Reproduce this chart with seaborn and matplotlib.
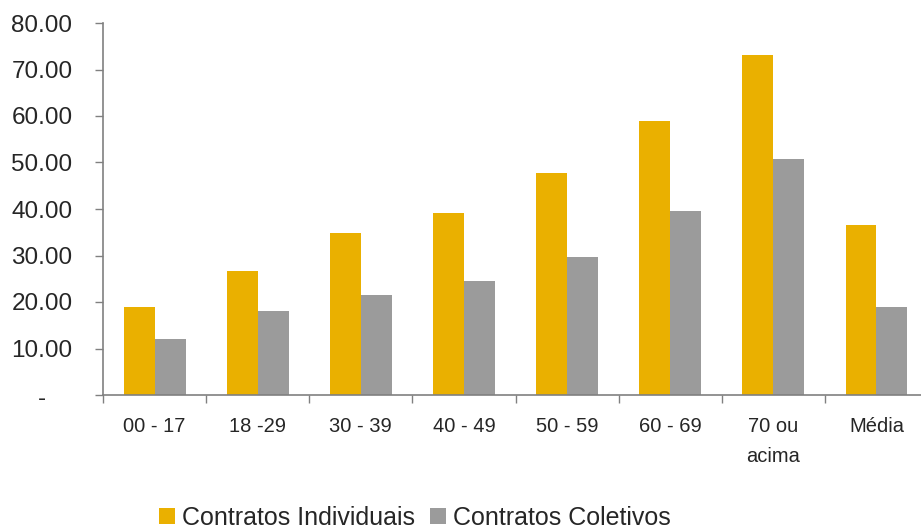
import matplotlib
matplotlib.use("Agg")
import matplotlib.pyplot as plt
import matplotlib.ticker as mticker
import matplotlib.transforms as mtransforms
from matplotlib.patches import Patch
import seaborn as sns
import pandas as pd
import numpy as np

# Faixas etárias e valores médios por tipo de contrato
faixas = ["00 - 17", "18 -29", "30 - 39", "40 - 49", "50 - 59", "60 - 69", "70 ou\nacima", "Média"]
individuais = [18.9, 26.7, 34.8, 39.1, 47.7, 58.9, 73.1, 36.6]
coletivos = [12.0, 18.1, 21.5, 24.5, 29.7, 39.6, 50.8, 18.9]
series = ["Contratos Individuais", "Contratos Coletivos"]
cores = ["#EAB000", "#9B9B9B"]
y_ticks = [0, 10, 20, 30, 40, 50, 60, 70, 80]

df = pd.DataFrame({
    "faixa": faixas * 2,
    "valor": individuais + coletivos,
    "serie": [series[0]] * len(faixas) + [series[1]] * len(faixas),
})

sns.set_style("white")
plt.rcParams["font.family"] = ["Liberation Sans", "DejaVu Sans"]

fig = plt.figure(figsize=(9.21, 5.29), dpi=100)
# a área do gráfico continua um pouco além da borda direita
ax = fig.add_axes([103 / 921, 1 - 395 / 529, 825 / 921, (395 - 23) / 529])

sns.barplot(data=df, x="faixa", y="valor", hue="serie", order=faixas,
            hue_order=series, palette=cores, width=0.6, gap=0,
            saturation=1, legend=False, ax=ax, edgecolor="none")

ax.set_xlim(-0.5, len(faixas) - 0.5)
ax.set_ylim(0, 80)
ax.set_xlabel("")
ax.set_ylabel("")

# Eixo Y: rótulos com duas casas, zero mostrado como traço
ax.set_yticks(y_ticks)
ax.yaxis.set_major_formatter(mticker.FuncFormatter(lambda v, p: "-" if v == 0 else f"{v:.2f}"))
ax.tick_params(axis="y", left=True, length=6, width=1, color="#808080", pad=16,
               labelsize=17.5, direction="out")

# Eixo X: rótulos no centro, marcas nas divisões entre categorias
ax.set_xticks(np.arange(len(faixas)))
ax.set_xticklabels(faixas, fontsize=14.5, linespacing=1.75)
ax.tick_params(axis="x", which="major", bottom=True, length=0, pad=16)
ax.set_xticks(np.arange(len(faixas) + 1) - 0.5, minor=True)
ax.tick_params(axis="x", which="minor", bottom=True, length=6, width=1, color="#808080",
               direction="out")

for s in ["top", "right"]:
    ax.spines[s].set_visible(False)
for s in ["left", "bottom"]:
    ax.spines[s].set_color("#808080")
    ax.spines[s].set_linewidth(1.2)

# o traço do zero fica centrado na coluna de rótulos
fig.canvas.draw()
zero_label = ax.get_yticklabels()[0]
zero_label.set_transform(zero_label.get_transform()
                         + mtransforms.ScaledTranslation(-26 / 100, -2 / 100, fig.dpi_scale_trans))

handles = [Patch(facecolor=c, edgecolor="none", label=l) for c, l in zip(cores, series)]
fig.legend(handles=handles, loc="center", bbox_to_anchor=(415 / 921, 1 - 518 / 529),
           ncol=2, frameon=False, fontsize=18, handlelength=0.62, handleheight=0.62,
           handletextpad=0.3, columnspacing=0.6, borderaxespad=0)

fig.savefig("out.png", dpi=100)
